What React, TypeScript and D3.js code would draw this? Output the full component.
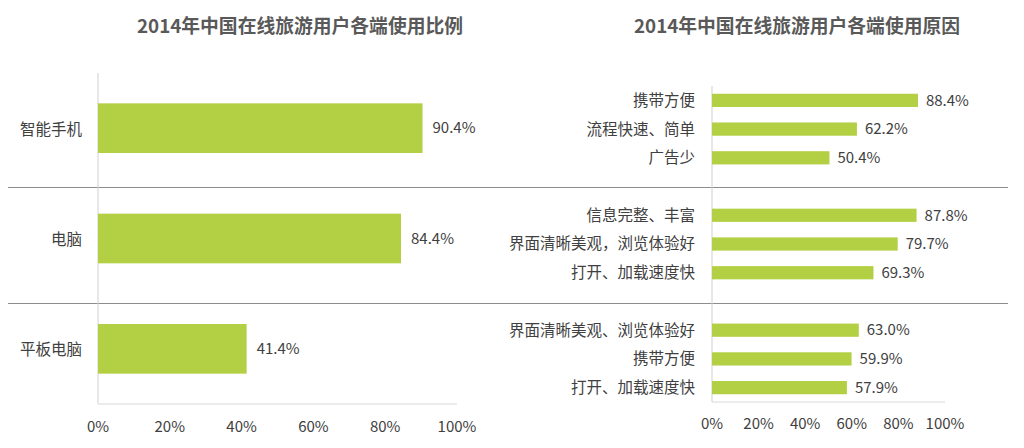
import * as React from "react"
import * as d3 from "d3"

const WIDTH = 1024
const HEIGHT = 448

const leftTitle = "2014年中国在线旅游用户各端使用比例"
const rightTitle = "2014年中国在线旅游用户各端使用原因"

const devices = ["智能手机", "电脑", "平板电脑"]
const deviceShare = [90.4, 84.4, 41.4]

const reasonLabels = [
  ["携带方便", "流程快速、简单", "广告少"],
  ["信息完整、丰富", "界面清晰美观，浏览体验好", "打开、加载速度快"],
  ["界面清晰美观、浏览体验好", "携带方便", "打开、加载速度快"],
]
const reasonValues = [
  [88.4, 62.2, 50.4],
  [87.8, 79.7, 69.3],
  [63.0, 59.9, 57.9],
]

const ticks = [0, 20, 40, 60, 80, 100]

const GREEN = "#b3cf44"
const TEXT = "#404040"
const FONT = "'Noto Sans CJK SC', 'Noto Sans', sans-serif"

export default function App() {
  // left chart
  const xl = d3.scaleLinear().domain([0, 100]).range([98, 457])
  const yl = d3.scaleBand().domain(devices).range([73, 404]).paddingInner(0.55).paddingOuter(0.275)

  // right chart: 11 slots, one empty slot between groups
  const xr = d3.scaleLinear().domain([0, 100]).range([712, 945])
  const slots = d3.range(11)
  const yr = d3.scaleBand<number>().domain(slots).range([86, 402]).paddingInner(0.54).paddingOuter(0.27)

  const reasons = reasonLabels.flatMap((g, gi) =>
    g.map((label, i) => ({ label, value: reasonValues[gi][i], slot: gi * 4 + i }))
  )

  const fmt = (v: number) => v.toFixed(1) + "%"

  return (
    <svg
      width={WIDTH}
      height={HEIGHT}
      style={{ position: "absolute", left: 0, top: 0, background: "#fff", fontFamily: FONT }}
    >
      <text x={300} y={26} dy="0.35em" textAnchor="middle" fontSize={18.8} fontWeight="bold" fill="#595959">
        {leftTitle}
      </text>
      <text x={797} y={26} dy="0.35em" textAnchor="middle" fontSize={18.8} fontWeight="bold" fill="#595959">
        {rightTitle}
      </text>

      {/* group separators */}
      <line x1={8} x2={1008} y1={187.5} y2={187.5} stroke="#8c8c8c" strokeWidth={1.2} />
      <line x1={8} x2={1008} y1={303.5} y2={303.5} stroke="#8c8c8c" strokeWidth={1.2} />

      {/* left axes */}
      <line x1={xl(0)} x2={xl(0)} y1={73} y2={404} stroke="#d0d0d0" />
      <line x1={xl(0)} x2={xl(100)} y1={404} y2={404} stroke="#d9d9d9" />
      {devices.map((d, i) => (
        <g key={d}>
          <rect x={xl(0)} y={yl(d)} width={xl(deviceShare[i]) - xl(0)} height={yl.bandwidth()} fill={GREEN} />
          <text x={82} y={yl(d)! + yl.bandwidth() / 2 + 1} dy="0.35em" textAnchor="end" fontSize={15.5} fill={TEXT}>
            {d}
          </text>
          <text x={xl(deviceShare[i]) + 10} y={yl(d)! + yl.bandwidth() / 2} dy="0.35em" fontSize={15} fill={TEXT}>
            {fmt(deviceShare[i])}
          </text>
        </g>
      ))}
      {ticks.map(t => (
        <text key={t} x={xl(t)} y={427} dy="0.35em" textAnchor="middle" fontSize={15} fill={TEXT}>
          {t}%
        </text>
      ))}

      {/* right axes */}
      <line x1={xr(0)} x2={xr(0)} y1={86} y2={402} stroke="#d0d0d0" />
      <line x1={xr(0)} x2={xr(100)} y1={402} y2={402} stroke="#d9d9d9" />
      {reasons.map(r => (
        <g key={r.slot}>
          <rect x={xr(0)} y={yr(r.slot)} width={xr(r.value) - xr(0)} height={yr.bandwidth()} fill={GREEN} />
          <text x={695} y={yr(r.slot)! + yr.bandwidth() / 2} dy="0.35em" textAnchor="end" fontSize={15.5} fill={TEXT}>
            {r.label}
          </text>
          <text x={xr(r.value) + 8} y={yr(r.slot)! + yr.bandwidth() / 2} dy="0.35em" fontSize={15} fill={TEXT}>
            {fmt(r.value)}
          </text>
        </g>
      ))}
      {ticks.map(t => (
        <text key={t} x={xr(t)} y={424} dy="0.35em" textAnchor="middle" fontSize={15} fill={TEXT}>
          {t}%
        </text>
      ))}
    </svg>
  )
}
